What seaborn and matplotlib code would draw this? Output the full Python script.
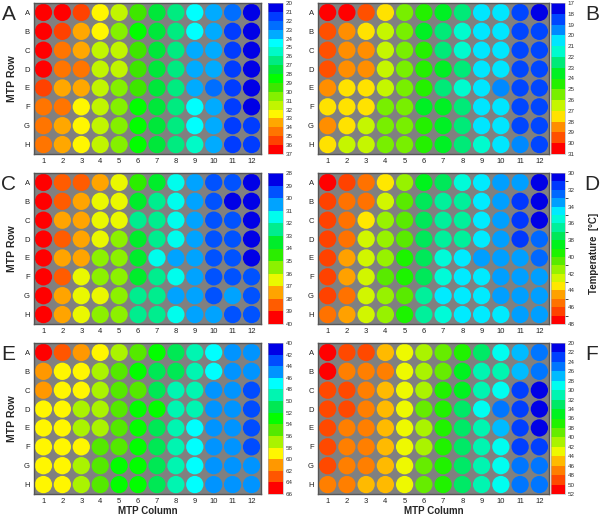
import numpy as np
import pandas as pd
import seaborn as sns
import matplotlib
matplotlib.use('Agg')
import matplotlib.pyplot as plt
from matplotlib.colors import ListedColormap, LinearSegmentedColormap, BoundaryNorm
from matplotlib.cm import ScalarMappable

# plate layout
rows = list('ABCDEFGH')
cols = list(range(1, 13))

# well temperatures [°C], one list per plate row A..H
temp_a = [
    [36.5, 36.5, 35.5, 32.5, 31.5, 29.5, 27, 26, 24.5, 23.5, 22.5, 20.5],
    [36.5, 35.5, 33.5, 32.5, 30.5, 28.5, 27, 26, 24.5, 23.5, 21.5, 20.5],
    [36.5, 34.5, 33.5, 31.5, 31.5, 29.5, 27, 26, 23.5, 23.5, 21.5, 20.5],
    [36.5, 34.5, 34.5, 31.5, 31.5, 29.5, 27.5, 26, 23.5, 23.5, 21.5, 20.5],
    [35.5, 33.5, 33.5, 31.5, 30.5, 29.5, 27.5, 26, 23.5, 22.5, 21.5, 20.5],
    [34.5, 34.5, 32.5, 31.5, 30.5, 28.5, 27.5, 26.5, 24.5, 23.5, 21.5, 20.5],
    [34.5, 33.5, 32.5, 31.5, 30.5, 28.5, 27.5, 26.5, 24.5, 23.5, 21.5, 21.5],
    [34.5, 33.5, 32.5, 31.5, 30.5, 28.5, 27.5, 26.5, 25.5, 23.5, 21.5, 21.5],
]
temp_b = [
    [30.5, 30.5, 29.5, 27.5, 25.5, 24.5, 23.5, 22.5, 20.5, 20.5, 18.5, 17.5],
    [29.5, 28.5, 27.5, 26.5, 25.5, 23.5, 22.5, 21.5, 20.5, 20.5, 18.5, 18.5],
    [29.5, 28.5, 28.5, 26.5, 25.5, 24.5, 22.5, 21.5, 20.5, 20.5, 18.5, 18.5],
    [29.5, 28.5, 28.5, 26.5, 25.5, 24.5, 23.5, 22.5, 20.5, 20.5, 18.5, 18.5],
    [28.5, 27.5, 27.5, 26.5, 25.5, 24.5, 22.5, 21.5, 20.5, 19.5, 18.5, 18.5],
    [27.5, 27.5, 27.5, 25.5, 25.5, 23.5, 23.5, 22.5, 20.5, 20.5, 18.5, 18.5],
    [28.5, 27.5, 26.5, 25.5, 25.5, 24.5, 23.5, 22.5, 20.5, 20.5, 18.5, 18.5],
    [27.5, 26.5, 26.5, 25.5, 25.5, 24.5, 23.5, 22.5, 21.5, 20.5, 19.5, 18.5],
]
temp_c = [
    [39.5, 38.5, 38.5, 37.5, 36.5, 34.5, 33.5, 31.5, 30.5, 29.5, 29.5, 28.5],
    [39.5, 38.5, 37.5, 36.5, 36.5, 33.5, 32.5, 31.5, 30.5, 29.5, 28.5, 28.5],
    [39.5, 37.5, 37.5, 36.5, 36.5, 32.5, 32.5, 31.5, 30.5, 29.5, 29.5, 28.5],
    [39.5, 38.5, 37.5, 36.5, 35.5, 33.5, 32.5, 31.5, 30.5, 29.5, 29.5, 28.5],
    [39.5, 37.5, 37.5, 35.5, 35.5, 33.5, 31.5, 30.5, 30.5, 29.5, 29.5, 28.5],
    [39.5, 38.5, 36.5, 35.5, 35.5, 33.5, 32.5, 31.5, 30.5, 29.5, 29.5, 29.5],
    [39.5, 37.5, 36.5, 36.5, 35.5, 32.5, 32.5, 30.5, 30.5, 29.5, 30.5, 29.5],
    [39.5, 37.5, 36.5, 35.5, 35.5, 32.5, 32.5, 31.5, 30.5, 30.5, 29.5, 29.5],
]
temp_d = [
    [47.5, 46.5, 45.5, 43.5, 41, 38, 37.5, 35.5, 34, 33, 33, 30.5],
    [46.5, 45.5, 45.5, 42.5, 40, 37, 36.5, 36, 34, 33, 31.5, 30.5],
    [46.5, 45.5, 43.5, 41, 40, 37, 36.5, 36, 34, 33, 31.5, 30.5],
    [46.5, 45.5, 42.5, 41, 40, 37, 36.5, 36, 34, 33, 31.5, 32],
    [46.5, 44.5, 42.5, 41, 39, 37, 35.5, 34.5, 33, 33, 33, 32],
    [46.5, 44.5, 42.5, 40, 39, 37, 35.5, 34.5, 34, 33, 33, 33],
    [46.5, 45.5, 42.5, 41, 40, 36, 34.5, 34.5, 34, 33, 33, 33],
    [45.5, 44.5, 42.5, 41, 39, 36, 35.5, 34.5, 34.5, 34, 33, 33],
]
temp_e = [
    [64, 62, 61, 59, 57.5, 55, 53, 50.5, 48.5, 47, 45.5, 45.5],
    [61, 59, 58, 56, 55, 53, 51, 50.5, 48, 46, 44.5, 44.5],
    [61, 59, 58, 56, 55.5, 54.5, 51, 49.5, 48, 45.5, 44.5, 42.5],
    [59.5, 59.5, 57.5, 57.5, 55.5, 53, 52, 49.5, 48.5, 45.5, 44.5, 42.5],
    [59.5, 59.5, 57.5, 57, 54.5, 53, 51, 49.5, 47, 44, 44.5, 42.5],
    [59.5, 58.5, 58.5, 55.5, 54.5, 53, 51, 49.5, 47, 45.5, 44.5, 42.5],
    [59.5, 58, 57.5, 55.5, 53.5, 53, 51, 49.5, 47, 45.5, 44.5, 44.5],
    [58, 58, 56, 54.5, 53.5, 52.5, 51, 48, 46, 44, 44, 44.5],
]
temp_f = [
    [51, 49.5, 48, 45.5, 43.5, 40.5, 38, 36, 33, 28.5, 26.5, 24.5],
    [50, 47.5, 47, 46, 43.5, 40, 38, 35, 31, 30.5, 26.5, 24.5],
    [49, 49, 47, 45.5, 43.5, 40, 36, 35, 30.5, 29, 23, 21],
    [48, 48, 46, 44.5, 42.5, 39, 36.5, 33, 29, 25.5, 22, 21],
    [48.5, 47.5, 47, 45, 42.5, 40, 36.5, 33, 30.5, 26.5, 22, 21],
    [48.5, 47.5, 46, 45.5, 42.5, 40, 36.5, 33, 30.5, 28, 23, 23],
    [48.5, 47.5, 46, 45, 42, 39, 36.5, 33, 30.5, 28, 24, 24],
    [47.5, 46, 45.5, 44, 42, 38.5, 36.5, 32.5, 30.5, 28, 24, 24],
]

# colour ramp of the legend, blue (cold) to red (hot)
ramp = ['#0000e6', '#003cff', '#006eff', '#00aaff', '#00ffff', '#00fac8',
        '#00eb82', '#00e63c', '#00ff00', '#3ce600', '#82f000', '#bef500',
        '#fffa00', '#ffaa00', '#ff7800', '#ff4600', '#ff0000']
base = LinearSegmentedColormap.from_list('plate', ramp)

# letter, data, scale min, scale max, band width, tick step
panels = [
    ('A', temp_a, 20, 37, 1, 1),
    ('B', temp_b, 17, 31, 1, 1),
    ('C', temp_c, 28, 40, 1, 1),
    ('D', temp_d, 30, 48, 1, 2),
    ('E', temp_e, 40, 66, 2, 2),
    ('F', temp_f, 20, 52, 2, 2),
]

sns.set_style('white')
plt.rcParams['font.family'] = ['Liberation Sans', 'DejaVu Sans']

fig = plt.figure(figsize=(6, 5.16), dpi=100)
W, H = 600, 516
row_tops = [3, 173, 343]
plate_h = 151
left_x = (34, 261, 268, 283)
right_x = (318, 549, 551, 565)

for i, (letter, data, vmin, vmax, step, tstep) in enumerate(panels):
    r, c = divmod(i, 2)
    x0, x1, cb0, cb1 = left_x if c == 0 else right_x
    top = row_tops[r]
    ax = fig.add_axes([x0 / W, 1 - (top + plate_h) / H, (x1 - x0) / W, plate_h / H])
    cax = fig.add_axes([cb0 / W, 1 - (top + plate_h) / H, (cb1 - cb0) / W, plate_h / H])

    df = pd.DataFrame(data, index=range(1, 9), columns=cols)
    df = df.reset_index().melt(id_vars='index', var_name='col', value_name='temp')
    df = df.rename(columns={'index': 'row'})
    df['col'] = df['col'].astype(int)

    bounds = np.arange(vmin, vmax + step / 2, step)
    n = len(bounds) - 1
    cmap = ListedColormap(base(np.linspace(0, 1, n)))
    norm = BoundaryNorm(bounds, n)

    ax.set_facecolor('#808080')
    sns.scatterplot(data=df, x='col', y='row', hue='temp', palette=cmap, hue_norm=norm,
                    s=155, linewidth=0, legend=False, ax=ax)
    ax.set_xlim(0.5, 12.5)
    ax.set_ylim(8.5, 0.5)
    ax.set_xticks(cols)
    ax.set_xticklabels([str(v) for v in cols])
    ax.set_yticks(range(1, 9))
    ax.set_yticklabels(rows)
    ax.tick_params(length=0, labelsize=5.5, pad=3, colors='#222222')
    for sp in ax.spines.values():
        sp.set_color('#555555')
        sp.set_linewidth(1)
    ax.set_xlabel('MTP Column' if r == 2 else '', fontsize=7, fontweight='bold', labelpad=0.5)
    ax.set_ylabel('MTP Row' if c == 0 else '', fontsize=7.5, fontweight='bold', labelpad=5)

    cb = fig.colorbar(ScalarMappable(norm=norm, cmap=cmap), cax=cax,
                      ticks=np.arange(vmin, vmax + tstep / 2, tstep))
    cax.invert_yaxis()
    cb.ax.tick_params(labelsize=4.5, length=0, pad=2, colors='#333333')
    cb.outline.set_linewidth(0.4)
    cb.outline.set_edgecolor('#aaaaaa')

    lx = 8.5 if c == 0 else 592
    fig.text(lx / W, 1 - (top + 11.5) / H, letter, fontsize=15, ha='center', va='center')

fig.text(594 / W, 1 - 253 / H, 'Temperature  [°C]', rotation=90, fontsize=7,
         fontweight='bold', ha='center', va='center')

fig.savefig('out.png', dpi=100, facecolor='white')
